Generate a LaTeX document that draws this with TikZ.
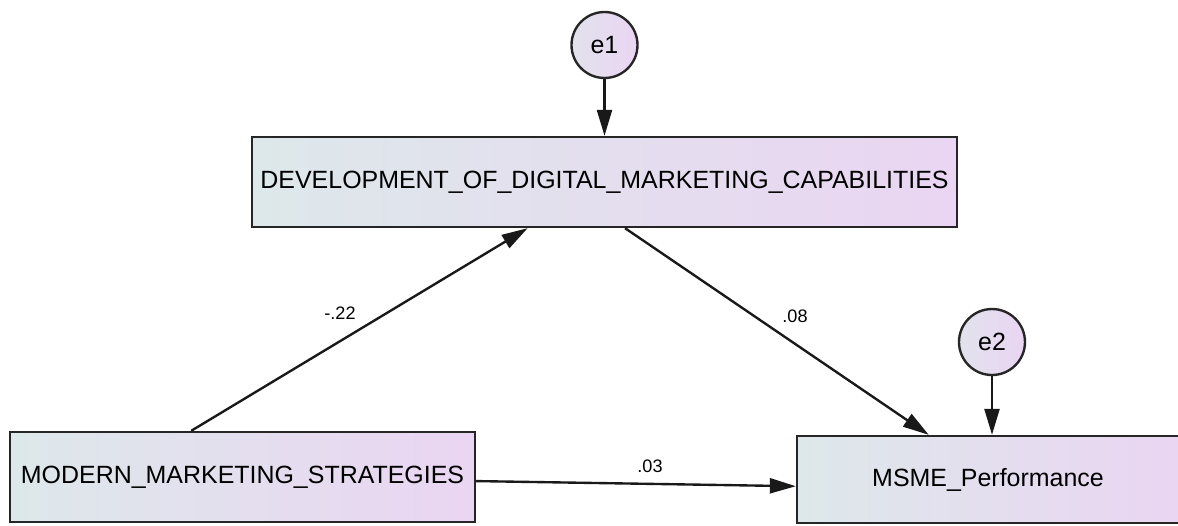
\documentclass[tikz,border=0pt]{standalone}
\usepackage{fontspec}
\setsansfont{Liberation Sans}
\usetikzlibrary{arrows.meta}
\definecolor{shadeleft}{RGB}{221,232,234}
\definecolor{shaderight}{RGB}{234,213,242}

\begin{document}
\begin{tikzpicture}[x=0.02cm, y=-0.02cm,
    nodes = {font=\sffamily\fontsize{14.2}{17}\selectfont},
    observed/.style = {rectangle, draw=black!85, line width=1.35pt,
      left color=shadeleft, right color=shaderight,
      minimum height=1.8cm, inner sep=0pt},
    residual/.style = {circle, draw=black!85, line width=1.35pt,
      left color=shadeleft!70!shaderight, right color=shaderight,
      minimum size=1.32cm, inner sep=0pt},
    weight/.style = {font=\sffamily\fontsize{10.3}{12}\selectfont, inner sep=0pt},
    regline/.style = {draw=black!90, line width=1.35pt,
      -{Triangle[length=0.52cm, width=0.3cm]}}]
  \useasboundingbox (0,0) rectangle (1178,525);
  \clip (0,0) rectangle (1178,525);

  % variables
  \node[observed, minimum width=14.1cm] (dev) at (604.5,182)
    {DEVELOPMENT\_OF\_DIGITAL\_MARKETING\_CAPABILITIES};
  \node[observed, minimum width=9.3cm] (mms) at (242.5,477)
    {MODERN\_MARKETING\_STRATEGIES};
  \node[observed, minimum width=7.64cm, minimum height=1.74cm] (msme) at (988,479.5)
    {MSME\_Performance};

  % error terms
  \node[residual] (e1) at (604.5,45) {e1};
  \node[residual] (e2) at (992,342) {e2};
  \draw[regline] (e1) -- (dev);
  \draw[regline] (e2) -- (e2 |- msme.north);

  % paths with their weights
  \foreach \src/\dst/\wt/\wx/\wy [count=\i] in {
      mms.138/dev.-149/-.22/340/313,
      dev.-66/msme.143/.08/795/316,
      mms.-1/msme.182/.03/650/466%
    } {
      \draw[regline] (\src) -- (\dst);
      \node[weight] (w\i) at (\wx,\wy) {\wt};
    };
\end{tikzpicture}
\end{document}
